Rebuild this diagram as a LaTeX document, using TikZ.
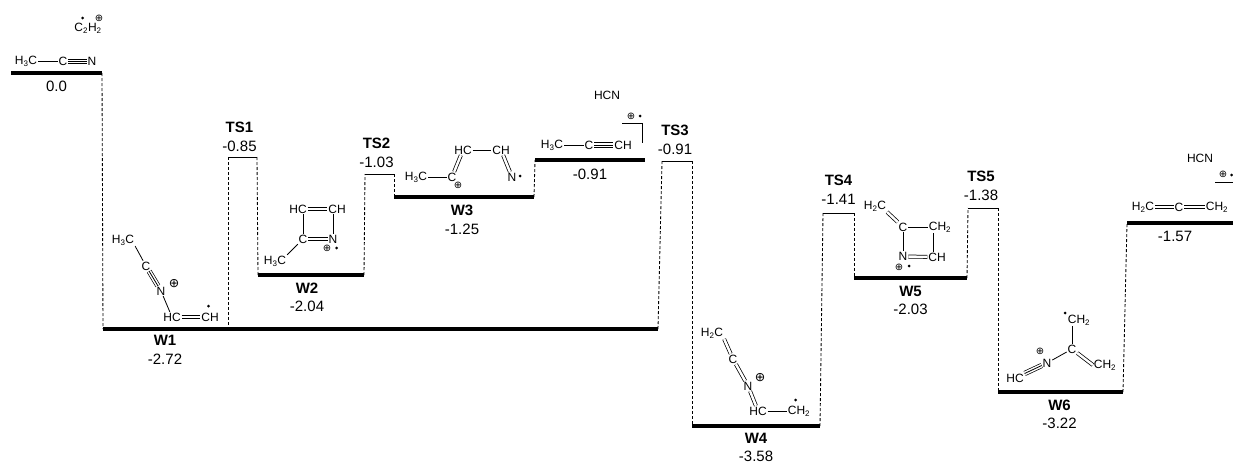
\documentclass[tikz,border=0pt]{standalone}
\usepackage{fontspec}
\setmainfont{Liberation Sans}
\newfontfamily\simbolo{DejaVu Sans}
\usetikzlibrary{positioning}

\begin{document}
\begin{tikzpicture}[
        x=1pt, y=-1pt,
        nivel/.style={
            rectangle,
            fill=black,
            minimum height=4pt,
            inner sep=0pt,
            outer sep=0pt
        },
        estadots/.style={
            rectangle,
            fill=black,
            minimum height=0.7pt,
            inner sep=0pt,
            outer sep=0pt
        },
        etiqueta/.style={
            align=center,
            inner sep=0pt,
            font=\fontsize{15}{18.5}\selectfont
        },
        atomo/.style={
            inner sep=0.8pt,
            font=\fontsize{12}{13}\selectfont
        },
        carga/.style={
            inner sep=0pt,
            text height=6pt,
            text depth=1pt,
            font=\simbolo\fontsize{10}{10}\selectfont
        },
        cargagrande/.style={
            carga,
            text height=8pt,
            text depth=1.5pt,
            font=\simbolo\fontsize{12.5}{12.5}\selectfont
        },
        radical/.style={
            circle,
            fill=black,
            inner sep=0pt,
            minimum size=3pt
        },
        conector/.style={
            dash pattern=on 3pt off 2pt,
            line width=0.85pt
        },
        enlace/.style={line width=0.8pt},
        doble/.style={
            double,
            double distance=2.4pt,
            line width=0.75pt
        },
        triple/.style={
            double,
            double distance=3.8pt,
            line width=0.7pt
        }
    ]
        \useasboundingbox (0,0) rectangle (1233,463);

        % niveles
        \node[nivel, minimum width=91pt] (r0) at (56.5,73) {};
        \node[nivel, minimum width=555pt] (w1) at (380.5,329) {};
        \node[nivel, minimum width=106pt] (w2) at (311,275) {};
        \node[nivel, minimum width=140pt] (w3) at (464,197) {};
        \node[nivel, minimum width=110pt] (p1) at (590,160) {};
        \node[nivel, minimum width=128pt] (w4) at (756,426) {};
        \node[nivel, minimum width=113pt] (w5) at (910.5,278) {};
        \node[nivel, minimum width=125pt] (w6) at (1060.5,392) {};
        \node[nivel, minimum width=106pt] (p2) at (1180,223) {};

        \node[estadots, minimum width=29pt] (ts1) at (242.5,157) {};
        \node[estadots, minimum width=29pt] (ts2) at (379.5,174) {};
        \node[estadots, minimum width=30pt] (ts3) at (677,161) {};
        \node[estadots, minimum width=31pt] (ts4) at (838.5,213) {};
        \node[estadots, minimum width=30pt] (ts5) at (983,208) {};

        % conectores
        \foreach \desde/\hasta in {r0.east/w1.west, ts1.east/w2.west, w2.east/ts2.west,
            ts2.east/w3.west, w3.east/p1.west, w1.east/ts3.west, ts3.east/w4.west,
            w4.east/ts4.west, ts4.east/w5.west, w5.east/ts5.west, ts5.east/w6.west,
            w6.east/p2.west}
            \draw[conector] (\desde) -- (\hasta);
        \draw[conector] (ts1.west) -- (ts1.west |- w1.north);

        % energias
        \node[etiqueta, below=6pt of r0] (r0e) {0.0};
        \node[etiqueta, anchor=north] (w1e) at (165,335) {{\bfseries W1}\\-2.72};
        \node[etiqueta, below=5.5pt of w2, xshift=-4pt] (w2e) {{\bfseries W2}\\-2.04};
        \node[etiqueta, below=6pt of w3, xshift=-2pt] (w3e) {{\bfseries W3}\\-1.25};
        \node[etiqueta, below=7pt of p1] (p1e) {-0.91};
        \node[etiqueta, below=4.5pt of w4] (w4e) {{\bfseries W4}\\-3.58};
        \node[etiqueta, below=5.5pt of w5] (w5e) {{\bfseries W5}\\-2.03};
        \node[etiqueta, below=5.5pt of w6, xshift=-1pt] (w6e) {{\bfseries W6}\\-3.22};
        \node[etiqueta, below=6pt of p2, xshift=-5pt] (p2e) {-1.57};

        \node[etiqueta, above=5pt of ts1, xshift=-3pt] (ts1e) {{\bfseries TS1}\\-0.85};
        \node[etiqueta, above=6pt of ts2, xshift=-3pt] (ts2e) {{\bfseries TS2}\\-1.03};
        \node[etiqueta, above=6pt of ts3, xshift=-2pt] (ts3e) {{\bfseries TS3}\\-0.91};
        \node[etiqueta, above=8pt of ts4] (ts4e) {{\bfseries TS4}\\-1.41};
        \node[etiqueta, above=7pt of ts5, xshift=-2pt] (ts5e) {{\bfseries TS5}\\-1.38};

        % acetonitrilo
        \node[atomo] (c2h2) at (88,28) {C\textsubscript{2}H\textsubscript{2}};
        \node[radical] (c2h2r) at (82.5,18) {};
        \node[carga] (c2h2c) at (99,19) {⊕};
        \node[atomo] (r0a) at (26,61.5) {H\textsubscript{3}C};
        \node[atomo] (r0b) at (63,61.5) {C};
        \node[atomo] (r0c) at (92,61.5) {N};
        \draw[enlace] (r0a) -- (r0b);
        \draw[triple] (r0b) -- (r0c);
        \draw[enlace] (r0b) -- (r0c);

        % W1
        \node[atomo] (w1a) at (123,240) {H\textsubscript{3}C};
        \node[atomo] (w1b) at (146,266) {C};
        \node[atomo] (w1c) at (161,291) {N};
        \node[atomo] (w1d) at (172,317) {HC};
        \node[atomo] (w1f) at (210,317) {CH};
        \node[cargagrande] (w1p) at (174,284) {⊕};
        \node[radical] (w1r) at (208.5,306) {};
        \draw[enlace] (w1a.south east) -- (w1b);
        \draw[triple] (w1b) -- (w1c);
        \draw[enlace] (w1b) -- (w1c);
        \draw[enlace] (w1c) -- (w1d);
        \draw[doble] (w1d) -- (w1f);

        % W2
        \node[atomo] (w2a) at (298,209) {HC};
        \node[atomo] (w2b) at (337,209) {CH};
        \node[atomo] (w2c) at (303,239) {C};
        \node[atomo] (w2d) at (333,239) {N};
        \node[atomo] (w2f) at (275,261) {H\textsubscript{3}C};
        \node[carga] (w2p) at (327,248.5) {⊕};
        \node[radical] (w2r) at (336.5,248) {};
        \draw[doble] (w2a) -- (w2b);
        \draw[doble] (w2c) -- (w2d);
        \draw[enlace] (w2c.north) -- (w2c.north |- w2a.south);
        \draw[enlace] (w2d.north) -- (w2d.north |- w2b.south);
        \draw[enlace] (w2c) -- (w2f.north east);

        % W3
        \node[atomo] (w3a) at (416,177) {H\textsubscript{3}C};
        \node[atomo] (w3b) at (452,177) {C};
        \node[atomo] (w3c) at (463,150) {HC};
        \node[atomo] (w3d) at (501,150) {CH};
        \node[atomo] (w3f) at (512,177) {N};
        \node[carga] (w3p) at (458,186) {⊕};
        \node[radical] (w3r) at (520,176) {};
        \draw[enlace] (w3a) -- (w3b);
        \draw[doble] (w3b) -- (w3c);
        \draw[enlace] (w3c) -- (w3d);
        \draw[doble] (w3d) -- (w3f);

        % propino + HCN
        \node[atomo] (p1a) at (552,145) {H\textsubscript{3}C};
        \node[atomo] (p1b) at (589,145) {C};
        \node[atomo] (p1c) at (623,145) {CH};
        \node[atomo] (p1h) at (607,95) {HCN};
        \node[carga] (p1p) at (631,117) {⊕};
        \node[radical] (p1r) at (640,116) {};
        \coordinate (p1g) at (622,123);
        \coordinate (p1j) at (642,123);
        \coordinate (p1k) at (642,143);
        \draw[enlace] (p1a) -- (p1b);
        \draw[triple] (p1b) -- (p1c);
        \draw[enlace] (p1b) -- (p1c);
        \draw[enlace] (p1g) -- (p1j) -- (p1k);

        % W4
        \node[atomo] (w4a) at (712,333) {H\textsubscript{2}C};
        \node[atomo] (w4b) at (733,359) {C};
        \node[atomo] (w4c) at (748,386) {N};
        \node[atomo] (w4d) at (758,411) {HC};
        \node[atomo] (w4f) at (799,411) {CH\textsubscript{2}};
        \node[cargagrande] (w4p) at (760,378) {⊕};
        \node[radical] (w4r) at (795.5,400) {};
        \draw[doble] (w4a.south east) -- (w4b);
        \draw[doble] (w4b) -- (w4c);
        \draw[doble] (w4c) -- (w4d);
        \draw[enlace] (w4d) -- (w4f);

        % W5
        \node[atomo] (w5a) at (875,206) {H\textsubscript{2}C};
        \node[atomo] (w5b) at (903,227) {C};
        \node[atomo] (w5c) at (940,227) {CH\textsubscript{2}};
        \node[atomo] (w5d) at (903,256.5) {N};
        \node[atomo] (w5f) at (937,257) {CH};
        \node[carga] (w5p) at (899,267.5) {⊕};
        \node[radical] (w5r) at (909,266) {};
        \draw[doble] (w5a.south east) -- (w5b);
        \draw[enlace] (w5b) -- (w5c);
        \draw[enlace] (w5b) -- (w5d);
        \draw[doble] (w5d) -- (w5f);
        \draw[enlace] ([xshift=-7pt]w5c.south) -- ([xshift=-4pt]w5f.north);

        % W6
        \node[atomo] (w6a) at (1079,320) {CH\textsubscript{2}};
        \node[atomo] (w6b) at (1072,349) {C};
        \node[atomo] (w6c) at (1047,363) {N};
        \node[atomo] (w6d) at (1015,378) {HC};
        \node[atomo] (w6f) at (1105,365) {CH\textsubscript{2}};
        \node[carga] (w6p) at (1040,352) {⊕};
        \node[radical] (w6r) at (1065,313) {};
        \draw[enlace] ([xshift=-7pt]w6a.south) -- (w6b);
        \draw[enlace] (w6b) -- (w6c);
        \draw[triple] (w6c) -- (w6d);
        \draw[enlace] (w6c) -- (w6d);
        \draw[doble] (w6b) -- (w6f.west);

        % aleno + HCN
        \node[atomo] (p2a) at (1143,207) {H\textsubscript{2}C};
        \node[atomo] (p2b) at (1179,207) {C};
        \node[atomo] (p2c) at (1217,207) {CH\textsubscript{2}};
        \node[atomo] (p2h) at (1200,158) {HCN};
        \node[carga] (p2p) at (1223,175) {⊕};
        \node[radical] (p2r) at (1231.5,175) {};
        \coordinate (p2g) at (1215,182);
        \coordinate (p2j) at (1233,182);
        \draw[doble] (p2a) -- (p2b);
        \draw[doble] (p2b) -- (p2c);
        \draw[enlace] (p2g) -- (p2j);
    \end{tikzpicture}
\end{document}
